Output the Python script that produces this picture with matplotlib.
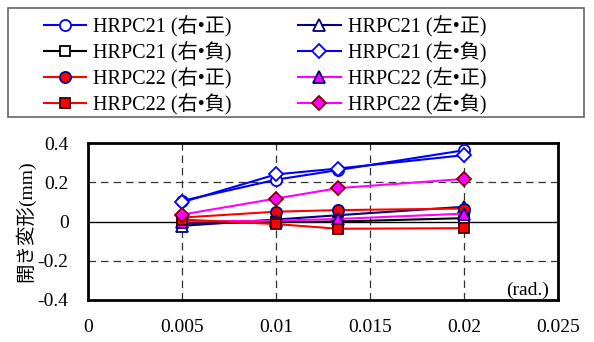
import numpy as np
import matplotlib
matplotlib.use('Agg')
import matplotlib.pyplot as plt
from matplotlib.patches import Rectangle

plt.rcParams['font.family'] = ['Liberation Serif', 'Noto Sans CJK JP', 'DejaVu Sans']

# データ (部材角 rad.)
x_vals = [0.005, 0.01, 0.0133, 0.02]

hrpc21_r_pos = [0.105, 0.213, 0.262, 0.363]
hrpc21_l_pos = [-0.022, 0.010, 0.032, 0.075]
hrpc21_r_neg = [-0.010, -0.003, 0.000, 0.017]
hrpc21_l_neg = [0.098, 0.240, 0.270, 0.338]
hrpc22_r_pos = [0.020, 0.050, 0.058, 0.066]
hrpc22_l_pos = [0.000, 0.004, 0.013, 0.040]
hrpc22_r_neg = [0.010, -0.013, -0.037, -0.034]
hrpc22_l_neg = [0.035, 0.117, 0.170, 0.217]

labels = ['HRPC21 (右•正)', 'HRPC21 (左•正)', 'HRPC21 (右•負)', 'HRPC21 (左•負)',
          'HRPC22 (右•正)', 'HRPC22 (左•正)', 'HRPC22 (右•負)', 'HRPC22 (左•負)']

fig = plt.figure(figsize=(5.94, 3.42), dpi=100)
ax = fig.add_axes([88/594, 1-300/342, 470/594, 157/342])

ms = 8
lw = 1.5
styles = [
    (hrpc21_r_pos, dict(color='#0000FF', marker='o', mfc='white', mec='#0000FF')),
    (hrpc21_l_pos, dict(color='#000080', marker='^', mfc='white', mec='#000080')),
    (hrpc21_r_neg, dict(color='black', marker='s', mfc='white', mec='black', ms=ms-0.5)),
    (hrpc21_l_neg, dict(color='#0000FF', marker='D', mfc='white', mec='#0000FF', ms=ms-1)),
    (hrpc22_r_pos, dict(color='#FF0000', marker='o', mfc='#FF0000', mec='#000080')),
    (hrpc22_l_pos, dict(color='#FF00FF', marker='^', mfc='#FF00FF', mec='#000080')),
    (hrpc22_r_neg, dict(color='#FF0000', marker='s', mfc='#FF0000', mec='#400000', ms=ms-0.5)),
    (hrpc22_l_neg, dict(color='#FF00FF', marker='D', mfc='#FF00FF', mec='#800000', ms=ms-1)),
]

handles = []
for (y, st), lab in zip(styles, labels):
    kw = dict(lw=lw, ms=ms, mew=1.3)
    kw.update(st)
    h, = ax.plot(x_vals, y, label=lab, zorder=3, **kw)
    handles.append(h)

ax.set_xlim(0, 0.025)
ax.set_ylim(-0.4, 0.4)
ax.set_xticks([0, 0.005, 0.01, 0.015, 0.02, 0.025])
ax.set_xticklabels(['0', '0.005', '0.01', '0.015', '0.02', '0.025'])
ax.set_yticks([-0.4, -0.2, 0, 0.2, 0.4])
ax.set_yticklabels(['-0.4', '-0.2', '0', '0.2', '0.4'])
ax.tick_params(axis='both', length=0, labelsize=14)
ax.tick_params(axis='x', pad=14)
ax.tick_params(axis='y', pad=14)

for xv in [0.005, 0.01, 0.015, 0.02]:
    ax.axvline(xv, color='#333333', lw=0.9, ls=(0, (6, 4)), zorder=1)
for yv in [-0.2, 0.2]:
    ax.axhline(yv, color='#333333', lw=0.9, ls=(0, (6, 4)), zorder=1)
ax.axhline(0, color='black', lw=1.0, zorder=1)

for s in ax.spines.values():
    s.set_linewidth(2)

ax.set_ylabel('開き変形(mm)', fontsize=14, labelpad=2)
ax.text(0.98, 0.06, '(rad.)', transform=ax.transAxes, ha='right', va='center', fontsize=14)

# 凡例 (枠は別に描画)
fig.patches.append(Rectangle((8/594, 1-117/342), 576/594, 109/342, transform=fig.transFigure,
                             fill=False, edgecolor='#666666', lw=1.2))
order = [0, 2, 4, 6, 1, 3, 5, 7]
fig.legend([handles[i] for i in order], [labels[i] for i in order], ncol=2,
           loc='upper left', bbox_to_anchor=(44/594, 1-16/342), frameon=False,
           fontsize=14.5, handlelength=2.1, handletextpad=0.35, columnspacing=3.3,
           labelspacing=0.22, borderpad=0, borderaxespad=0)

fig.savefig('out.png', dpi=100)
